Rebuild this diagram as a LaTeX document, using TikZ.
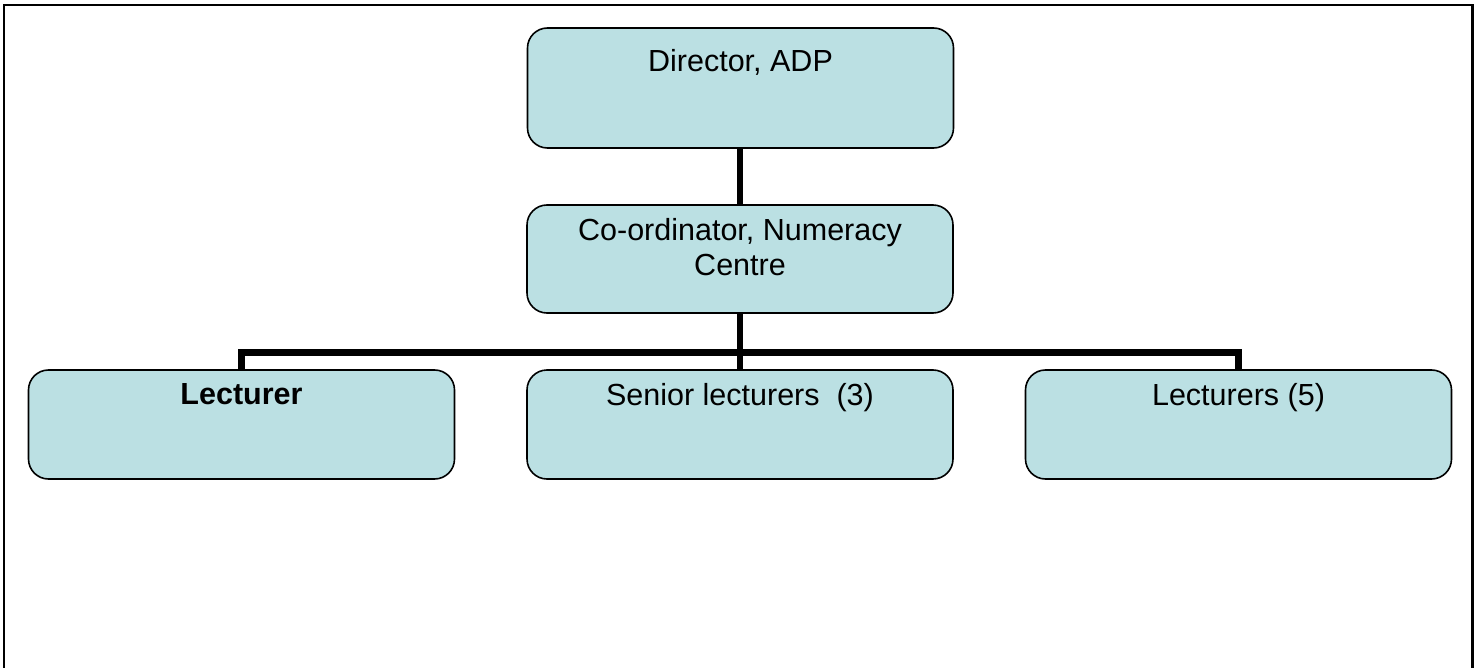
\documentclass[tikz,border=0pt]{standalone}
\usepackage{fontspec}
\setmainfont{Liberation Sans}
\definecolor{boxfill}{HTML}{BBE0E3}
\begin{document}
\begin{tikzpicture}[x=1pt,y=-1pt,
  orgbox/.style={draw=black, line width=1.6pt, fill=boxfill, rounded corners=20pt,
    minimum width=426pt, inner sep=0pt},
  lab/.style={font=\fontsize{30.5}{35}\selectfont, inner sep=0pt, anchor=base, align=center},
  conn/.style={line width=6.5pt, draw=black, line join=miter},
  frame/.style={line width=2.2pt, draw=black}]
\useasboundingbox (0,0) rectangle (1479,668);
\fill[white] (0,0) rectangle (1479,668);
% outer frame
\draw[frame] (4,668) -- (4,5) -- (1472.5,5) -- (1472.5,668);
% boxes
\coordinate (bus) at (740,352.5);
\node[orgbox, minimum height=120pt] (dir) at (740.5,88) {};
\node[orgbox, minimum height=108pt] (coord) at (740,259) {};
\node[orgbox, minimum height=109pt] (lect) at (241.5,424.5) {};
\node[orgbox, minimum height=109pt] (sen) at (740,424.5) {};
\node[orgbox, minimum height=109pt] (lec5) at (1238.5,424.5) {};
% connectors
\draw[conn] (coord.north |- dir.south) -- (coord.north);
\draw[conn] (coord.south) -- (sen.north);
\draw[conn] (lect.north) |- (bus) -| (lec5.north);
% labels
\node[lab] (tdir) at (740.5,71.5) {Director, ADP};
\node[lab] (tcoord) at (740,275) {Co-ordinator, Numeracy\\Centre};
\node[lab, font=\fontsize{30.5}{35}\selectfont\bfseries] (tlect) at (241.5,404) {Lecturer};
\node[lab] (tsen) at (740,405) {Senior lecturers\ \ (3)};
\node[lab] (tlec5) at (1238.5,405) {Lecturers (5)};
\end{tikzpicture}
\end{document}
